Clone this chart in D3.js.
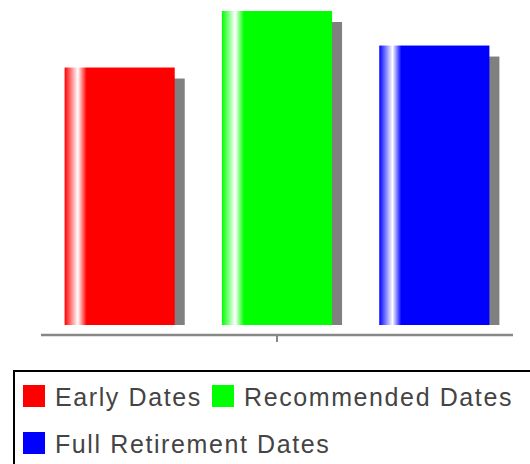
<!DOCTYPE html>
<html>
<head>
<meta charset="utf-8">
<script src="https://cdn.jsdelivr.net/npm/d3@7"></script>
<style>
  body { margin: 0; background: #fff; }
  .legend text { font-family: "Liberation Sans", Arial, sans-serif; font-size: 25px; fill: #444; letter-spacing: 1.6px; }
</style>
</head>
<body>
<svg id="chart" width="530" height="464"></svg>
<script>
const categories = ["Early Dates", "Recommended Dates", "Full Retirement Dates"];
const values = [82, 100, 89];
const colors = ["#ff0000", "#00ff00", "#0000ff"];

const svg = d3.select("#chart");

const x = d3.scaleBand()
    .domain(categories)
    .range([41, 513])
    .paddingInner(0.3)
    .paddingOuter(0.15);

const y = d3.scaleLinear()
    .domain([0, 100])
    .range([325, 11]);

// gradient highlight near the left edge of each bar
const defs = svg.append("defs");
categories.forEach((c, i) => {
  const grad = defs.append("linearGradient")
      .attr("id", "grad" + i)
      .attr("x1", 0).attr("x2", 1).attr("y1", 0).attr("y2", 0);
  grad.append("stop").attr("offset", "0%").attr("stop-color", colors[i]);
  grad.append("stop").attr("offset", "12%").attr("stop-color", "#fff");
  grad.append("stop").attr("offset", "20%").attr("stop-color", colors[i]);
  grad.append("stop").attr("offset", "100%").attr("stop-color", colors[i]);
});

const data = categories.map((c, i) => ({name: c, value: values[i], i: i}));

// shadows
svg.append("g").selectAll("rect")
  .data(data)
  .join("rect")
    .attr("x", d => x(d.name) + 10)
    .attr("y", d => y(d.value) + 11)
    .attr("width", x.bandwidth())
    .attr("height", d => y(0) - y(d.value) - 11)
    .attr("fill", "#808080");

// bars
svg.append("g").selectAll("rect")
  .data(data)
  .join("rect")
    .attr("x", d => x(d.name))
    .attr("y", d => y(d.value))
    .attr("width", x.bandwidth())
    .attr("height", d => y(0) - y(d.value))
    .attr("fill", d => "url(#grad" + d.i + ")");

// axis line with a single centre tick
const axis = svg.append("g");
axis.append("line")
    .attr("x1", 41).attr("x2", 513)
    .attr("y1", 335).attr("y2", 335)
    .attr("stroke", "#888").attr("stroke-width", 2.5);
axis.append("line")
    .attr("x1", 277).attr("x2", 277)
    .attr("y1", 335).attr("y2", 342)
    .attr("stroke", "#888").attr("stroke-width", 2);

// legend
const legend = svg.append("g").attr("class", "legend");
legend.append("rect")
    .attr("x", 14).attr("y", 371)
    .attr("width", 540).attr("height", 120)
    .attr("fill", "none")
    .attr("stroke", "#000").attr("stroke-width", 2);

const items = [
  {x: 23, y: 385},
  {x: 212, y: 385},
  {x: 23, y: 432}
];
data.forEach((d, i) => {
  const it = legend.append("g").attr("transform", "translate(" + items[i].x + "," + items[i].y + ")");
  it.append("rect").attr("width", 22).attr("height", 22).attr("fill", colors[i]);
  it.append("text").attr("x", 32).attr("y", 21).text(d.name);
});
</script>
</body>
</html>
